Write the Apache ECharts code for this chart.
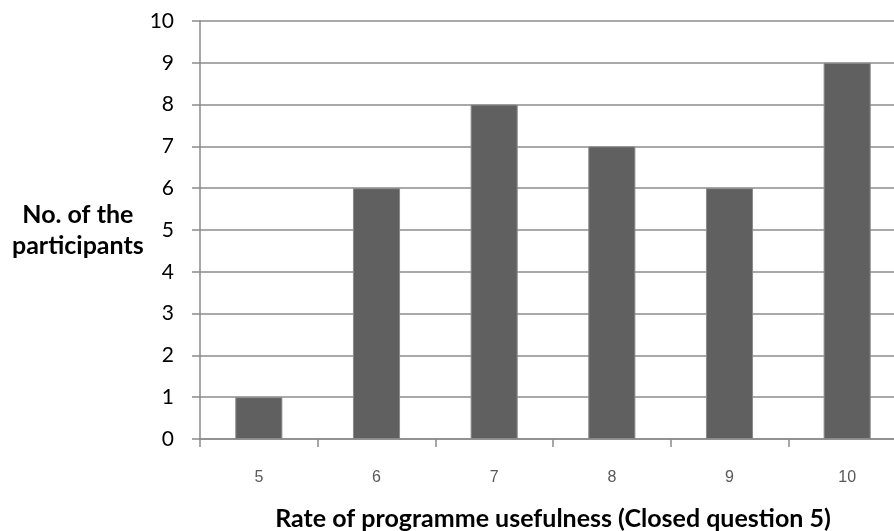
<!DOCTYPE html>
<html>
<head>
<meta charset="utf-8">
<script src="https://cdn.jsdelivr.net/npm/echarts@6/dist/echarts.min.js"></script>
<style>
  html, body { margin: 0; padding: 0; background: #ffffff; overflow: hidden; }
  #chart { width: 894px; height: 531px; }
</style>
</head>
<body>
<div id="chart"></div>
<script>
// Rating scores given by participants and how many chose each
const ratings = ['5', '6', '7', '8', '9', '10'];
const participantCounts = [1, 6, 8, 7, 6, 9];
const countTicks = [0, 1, 2, 3, 4, 5, 6, 7, 8, 9, 10];

const chart = echarts.init(document.getElementById('chart'), null, { renderer: 'canvas' });

chart.setOption({
  animation: false,
  backgroundColor: '#ffffff',
  // the plot deliberately runs a little past the right edge of the canvas
  grid: { left: 200, top: 21, width: 706, height: 418, containLabel: false, outerBoundsMode: 'none' },
  xAxis: {
    type: 'category',
    data: ratings,
    boundaryGap: true,
    name: 'Rate of programme usefulness (Closed question 5)',
    nameLocation: 'middle',
    nameGap: 67,
    nameTextStyle: { fontFamily: 'Lato', fontWeight: 'bold', fontSize: 25, color: '#000000' },
    axisLine: { show: true, lineStyle: { color: '#8a8a8a', width: 1.5 } },
    axisTick: { show: true, alignWithLabel: false, length: 8, lineStyle: { color: '#8a8a8a', width: 1.5 } },
    axisLabel: { margin: 31, fontFamily: 'Liberation Sans', fontSize: 16, color: '#595959' },
    splitLine: { show: false }
  },
  yAxis: {
    type: 'value',
    min: countTicks[0],
    max: countTicks[countTicks.length - 1],
    interval: 1,
    name: 'No. of the\nparticipants',
    nameLocation: 'middle',
    nameRotate: 0,
    nameGap: 121,
    nameTextStyle: { fontFamily: 'Lato', fontWeight: 'bold', fontSize: 25, color: '#000000', align: 'center', lineHeight: 31, padding: [6, 0, 0, 0] },
    axisLine: { show: true, lineStyle: { color: '#8a8a8a', width: 1.5 } },
    axisTick: { show: true, length: 8, lineStyle: { color: '#8a8a8a', width: 1.5 } },
    axisLabel: { margin: 26, fontFamily: 'Lato', fontSize: 21, color: '#000000' },
    splitLine: { show: true, lineStyle: { color: '#8c8c8c', width: 1.5 } }
  },
  series: [{
    type: 'bar',
    data: participantCounts,
    barCategoryGap: '60%',
    itemStyle: { color: '#606060', borderColor: '#8a8a8a', borderWidth: 1 }
  }]
});
</script>
</body>
</html>
